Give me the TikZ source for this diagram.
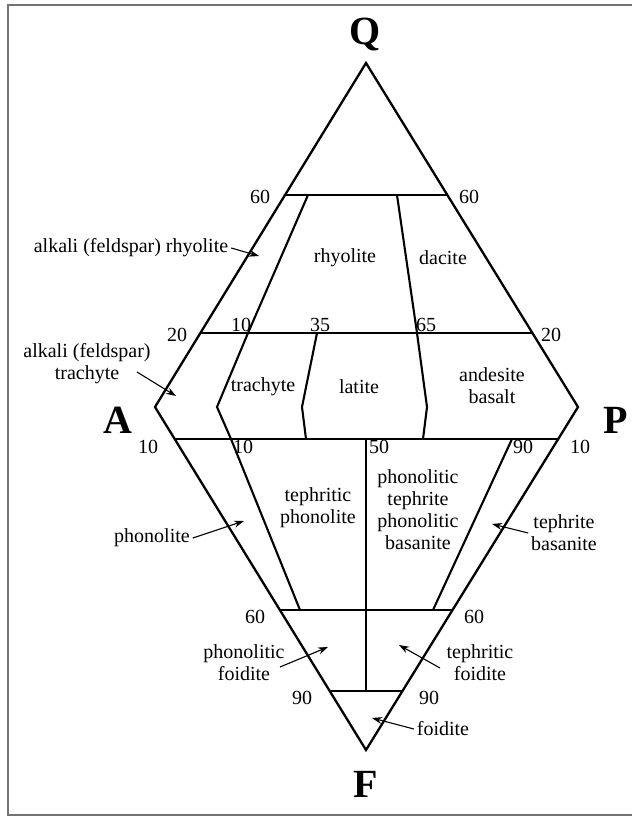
\documentclass[tikz,border=0pt]{standalone}
\usepackage{fontspec}
\setmainfont{Liberation Serif}
\usetikzlibrary{arrows.meta}

\begin{document}
\begin{tikzpicture}[
        x=1pt, y=-1pt,
        field/.style={line width=2.3pt, line join=miter, draw=black},
        divider/.style={line width=2.1pt, draw=black},
        rockname/.style={align=center, font=\fontsize{20}{22}\selectfont, inner sep=0pt, outer sep=3pt},
        tick/.style={font=\fontsize{20}{22}\selectfont, inner sep=0pt},
        corner/.style={font=\fontsize{40}{44}\selectfont\bfseries, inner sep=0pt},
        pointer/.style={-{Stealth[length=10pt, width=7pt]}, line width=1.1pt},
        frame/.style={draw=black!55, line width=1.5pt}
    ]
        \useasboundingbox (0,0) rectangle (632,817);

        % Outer frame (right side runs off the page)
        \draw[frame] (660,5) -- (8,5) -- (8,815) -- (660,815);

        % Corners of the double triangle
        \coordinate (Q) at (366,63);
        \coordinate (A) at (155,407);
        \coordinate (P) at (578,407);
        \coordinate (F) at (366,750);

        % Horizontal field limits
        \coordinate (q60l) at (285,195); \coordinate (q60r) at (447,195);
        \coordinate (q20l) at (200,333); \coordinate (q20r) at (532,333);
        \coordinate (f10l) at (174,439); \coordinate (f10r) at (558,439);
        \coordinate (f60l) at (281,610); \coordinate (f60r) at (452,610);
        \coordinate (f90l) at (331,691); \coordinate (f90r) at (402,691);

        % Inner boundaries
        \coordinate (a1) at (308,195); \coordinate (a2) at (248,333);
        \coordinate (a3) at (217,407); \coordinate (a4) at (231,439);
        \coordinate (a5) at (300,610);
        \coordinate (b1) at (317,333); \coordinate (b2) at (302,407);
        \coordinate (b3) at (306,439);
        \coordinate (c1) at (397,195); \coordinate (c2) at (417,333);
        \coordinate (c3) at (427,407); \coordinate (c4) at (423,439);
        \coordinate (d1) at (512,439); \coordinate (d2) at (433,610);
        \coordinate (e1) at (366,439); \coordinate (e2) at (366,691);

        \draw[field] (Q) -- (A) -- (F) -- (P) -- cycle;
        \draw[divider] (q60l) -- (q60r);
        \draw[divider] (q20l) -- (q20r);
        \draw[divider] (f10l) -- (f10r);
        \draw[divider] (f60l) -- (f60r);
        \draw[divider] (f90l) -- (f90r);
        \draw[divider] (a1) -- (a2) -- (a3) -- (a4) -- (a5);
        \draw[divider] (b1) -- (b2) -- (b3);
        \draw[divider] (c1) -- (c2) -- (c3) -- (c4);
        \draw[divider] (d1) -- (d2);
        \draw[divider] (e1) -- (e2);

        % Corner letters
        \node[corner] (labQ) at (365,34) {Q};
        \node[corner] (labA) at (118,420) {A};
        \node[corner] (labP) at (616,420) {P};
        \node[corner] (labF) at (366,784) {F};

        % Percentages
        \node[tick] (t60ql) at (260,197) {60};
        \node[tick] (t60qr) at (469,197) {60};
        \node[tick] (t20l) at (177,335) {20};
        \node[tick] (t20r) at (551,335) {20};
        \node[tick] (t10q) at (241,325) {10};
        \node[tick] (t35) at (320,325) {35};
        \node[tick] (t65) at (426,325) {65};
        \node[tick] (t10l) at (148,447) {10};
        \node[tick] (t10f) at (243,447) {10};
        \node[tick] (t50) at (379,447) {50};
        \node[tick] (t90f) at (523,447) {90};
        \node[tick] (t10r) at (580,447) {10};
        \node[tick] (t60fl) at (255,617) {60};
        \node[tick] (t60fr) at (474,617) {60};
        \node[tick] (t90l) at (302,698) {90};
        \node[tick] (t90r) at (429,698) {90};

        % Rock names inside the fields
        \node[rockname] (rhy) at (345,258) {rhyolite};
        \node[rockname] (dac) at (443,258) {dacite};
        \node[rockname] (tra) at (263,387) {trachyte};
        \node[rockname] (lat) at (359,387) {latite};
        \node[rockname] (and) at (492,386) {andesite\\basalt};
        \node[rockname] (tph) at (318,508) {tephritic\\phonolite};
        \node[rockname] (pte) at (418,510) {phonolitic\\tephrite\\phonolitic\\basanite};

        % Rock names outside, with pointers
        \node[rockname] (arhy) at (131,248) {alkali (feldspar) rhyolite};
        \node[rockname] (atra) at (87,364) {alkali (feldspar)\\trachyte};
        \node[rockname] (phon) at (152,538) {phonolite};
        \node[rockname] (tbas) at (564,533) {tephrite\\basanite};
        \node[rockname] (pfoi) at (244,663) {phonolitic\\foidite};
        \node[rockname] (tfoi) at (480,663) {tephritic\\foidite};
        \node[rockname] (foid) at (443,729) {foidite};

        \coordinate (arhytip) at (259,256);
        \coordinate (atratail) at (137,372); \coordinate (atratip) at (176,396);
        \coordinate (phontip) at (244,521);
        \coordinate (tbastip) at (492,524);
        \coordinate (pfoitail) at (280,667); \coordinate (pfoitip) at (328,647);
        \coordinate (tfoitail) at (440,668); \coordinate (tfoitip) at (399,645);
        \coordinate (foidtip) at (372,718);

        \draw[pointer] (arhy.east) -- (arhytip);
        \draw[pointer] (atratail) -- (atratip);
        \draw[pointer] (phon.east) -- (phontip);
        \draw[pointer] (tbas.west) -- (tbastip);
        \draw[pointer] (pfoitail) -- (pfoitip);
        \draw[pointer] (tfoitail) -- (tfoitip);
        \draw[pointer] (foid.west) -- (foidtip);
    \end{tikzpicture}
\end{document}
